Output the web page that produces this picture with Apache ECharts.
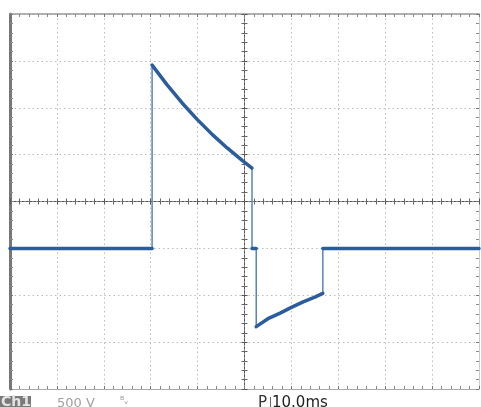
<!DOCTYPE html>
<html>
<head>
<meta charset="utf-8">
<script src="https://cdn.jsdelivr.net/npm/echarts@6/dist/echarts.min.js"></script>
<style>
html,body{margin:0;padding:0;background:#fff;}
#chart{width:481px;height:407px;}
</style>
</head>
<body>
<div id="chart"></div>
<script>
// Time relative to trigger (ms), 10 ms/div; voltage (V), 500 V/div
const timeRange = [-50, 50];
const voltRange = [-2000, 2000];
const timeDiv = 10;
const voltDiv = 500;
const traceTime = [-50, -19.7, -19.7, -16.5, -13.3, -10.1, -6.9, -3.7, -0.5, 1.6, 1.6, 2.5, 2.5, 5, 7.6, 10, 12.5, 15, 16.7, 16.7, 50];
const traceVolt = [-500, -500, 1455, 1244, 1051, 876, 716, 571, 439, 357, -500, -500, -1335, -1250, -1190, -1130, -1070, -1020, -980, -500, -500];
const channelLabel = 'Ch1';
const scaleLabel = '500 V';
const bwLabel = 'ᴮᵥ';
const timeLabel = '10.0ms';

const tracePts = traceTime.map((t, i) => [t, traceVolt[i]]);
// thick trace: break at the fast vertical edges
const thickPts = [];
for (let i = 0; i < tracePts.length; i++) {
  if (i > 0 && tracePts[i][0] === tracePts[i - 1][0]) thickPts.push('-');
  thickPts.push(tracePts[i]);
}

const gridLine = {show: true, lineStyle: {color: '#bcbcbc', type: [1.5, 3], width: 1}};
function xAx(extra) {
  return Object.assign({
    type: 'value', min: timeRange[0], max: timeRange[1], interval: timeDiv,
    axisLabel: {show: false}, splitLine: {show: false},
    axisLine: {show: true, onZero: false, lineStyle: {color: '#999', width: 1}},
    axisTick: {show: true, inside: true, length: 3, lineStyle: {color: '#777'}},
    minorTick: {show: true, splitNumber: 5, length: 3, lineStyle: {color: '#888'}}
  }, extra);
}
function yAx(extra) {
  return Object.assign({
    type: 'value', min: voltRange[0], max: voltRange[1], interval: voltDiv,
    axisLabel: {show: false}, splitLine: {show: false},
    axisLine: {show: true, onZero: false, lineStyle: {color: '#999', width: 1}},
    axisTick: {show: true, inside: true, length: 3, lineStyle: {color: '#777'}},
    minorTick: {show: true, splitNumber: 5, length: 3, lineStyle: {color: '#888'}}
  }, extra);
}
const centerLine = {show: true, onZero: true, onZeroAxisIndex: 0, lineStyle: {color: '#555', type: [2, 2], width: 1}};
const cTick = (inside) => ({show: true, inside: inside, length: 3, lineStyle: {color: '#555'}});
const cMinor = {show: true, splitNumber: 5, length: 3, lineStyle: {color: '#666'}};

const chart = echarts.init(document.getElementById('chart'), null, {renderer: 'canvas'});
chart.setOption({
  animation: false,
  backgroundColor: '#fff',
  grid: {left: 10, top: 14, width: 469, height: 375},
  xAxis: [
    xAx({position: 'bottom', splitLine: gridLine, axisLine: {show: true, onZero: false, lineStyle: {color: '#aaa'}}}),
    xAx({position: 'top', axisLine: {show: true, onZero: false, lineStyle: {color: '#999', width: 1.5}}}),
    xAx({position: 'bottom', axisLine: centerLine, axisTick: cTick(true), minorTick: cMinor}),
    xAx({position: 'bottom', axisLine: centerLine, axisTick: cTick(false), minorTick: cMinor})
  ],
  yAxis: [
    yAx({position: 'left', splitLine: gridLine, axisLine: {show: true, onZero: false, lineStyle: {color: '#777', width: 3}}}),
    yAx({position: 'right', axisLine: {show: true, onZero: false, lineStyle: {color: '#ccc'}}}),
    yAx({position: 'left', axisLine: centerLine, axisTick: cTick(true), minorTick: cMinor}),
    yAx({position: 'left', axisLine: centerLine, axisTick: cTick(false), minorTick: cMinor})
  ],
  series: [
    {type: 'line', data: tracePts, showSymbol: false, symbol: 'none',
     lineStyle: {color: '#5585c0', width: 1.5}, z: 5},
    {type: 'line', data: thickPts, showSymbol: false, symbol: 'none', connectNulls: false,
     lineStyle: {color: '#2b5d9c', width: 3.5, cap: 'round', join: 'round'}, z: 6}
  ],
  graphic: [
    {type: 'rect', shape: {x: 0, y: 396, width: 31, height: 11}, style: {fill: '#7a7a7a'}},
    {type: 'text', x: 1, y: 395, style: {text: channelLabel, fill: '#e4e4e4', font: 'bold 14px "DejaVu Sans", sans-serif', textVerticalAlign: 'top'}},
    {type: 'text', x: 57, y: 397, style: {text: scaleLabel, fill: '#a0a0a0', font: '13px "DejaVu Sans", sans-serif', textVerticalAlign: 'top'}},
    {type: 'text', x: 120, y: 396, style: {text: bwLabel, fill: '#999', font: '10px "DejaVu Sans", sans-serif', textVerticalAlign: 'top'}},
    {type: 'text', x: 258, y: 396, style: {text: 'P', fill: '#333', font: '15px "DejaVu Sans", sans-serif', textVerticalAlign: 'top'}},
    {type: 'line', shape: {x1: 270.5, y1: 397, x2: 270.5, y2: 407}, style: {stroke: '#666', lineWidth: 1}},
    {type: 'text', x: 272, y: 396, style: {text: timeLabel, fill: '#222', font: '15px "DejaVu Sans", sans-serif', textVerticalAlign: 'top'}}
  ]
});
</script>
</body>
</html>
